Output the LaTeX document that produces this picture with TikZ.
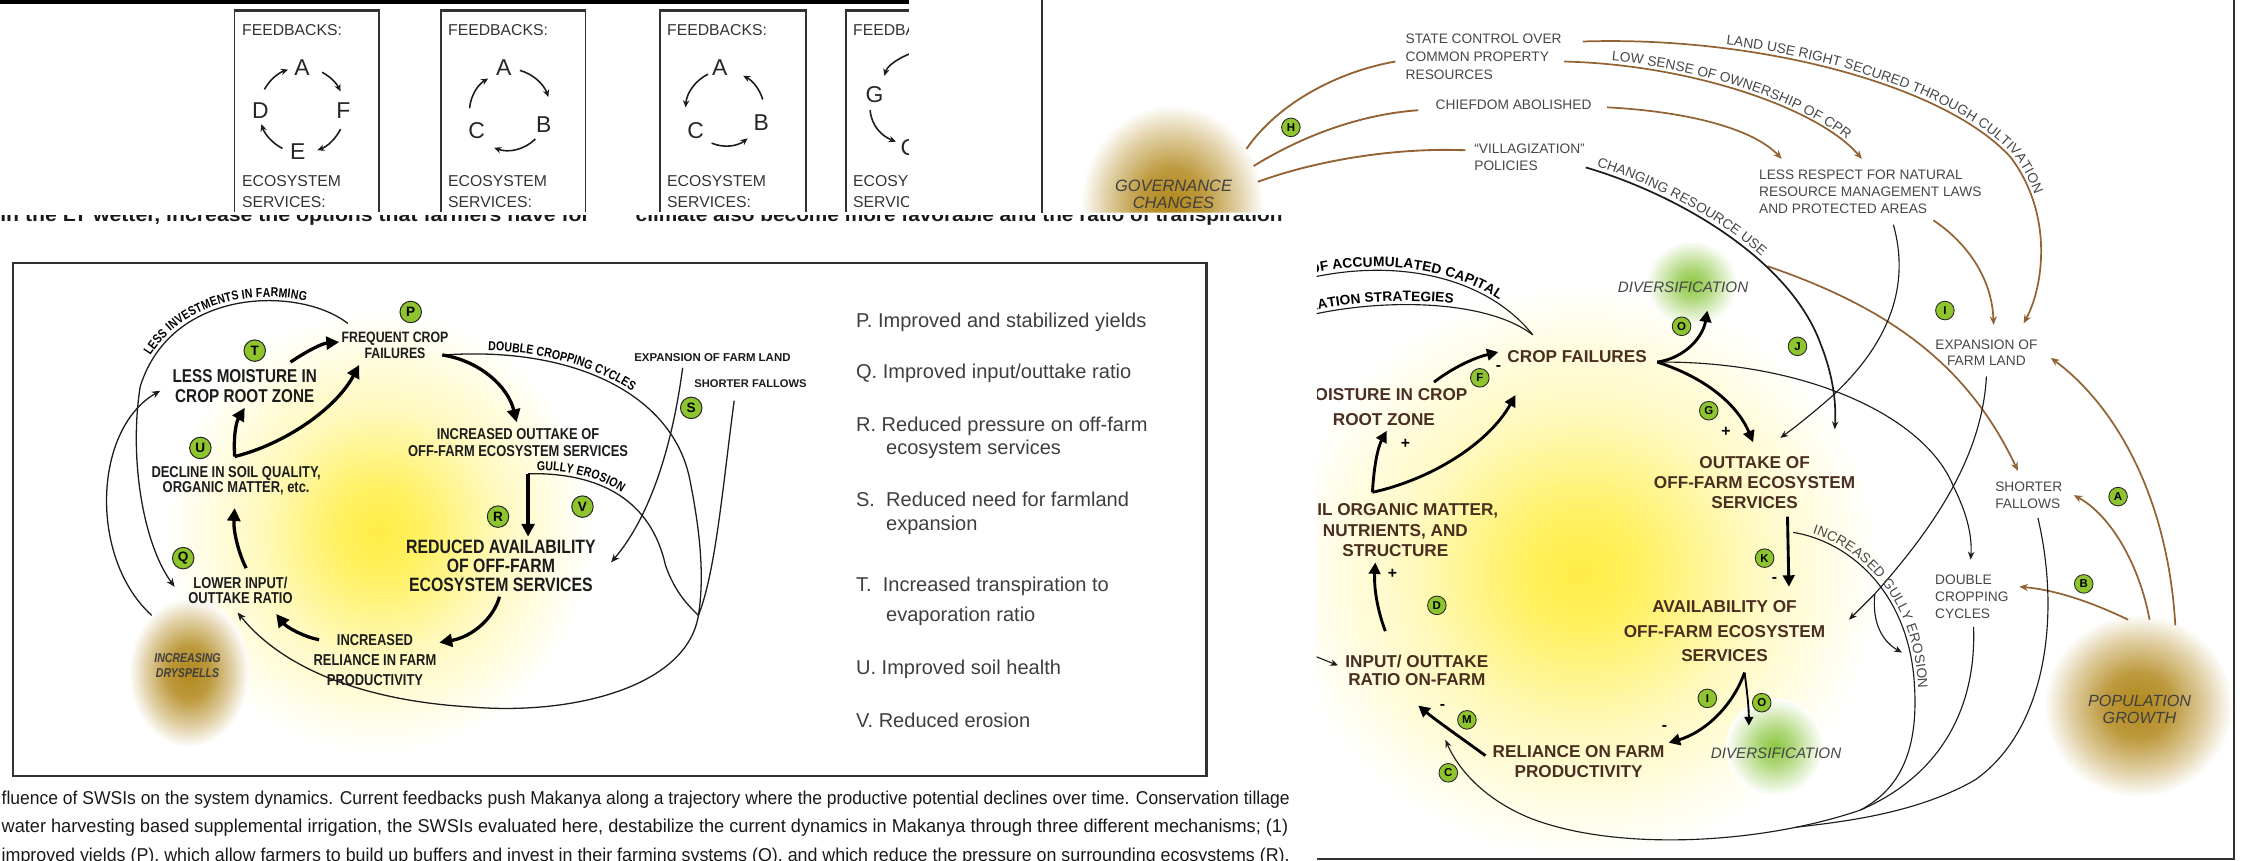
\documentclass[tikz,border=0pt]{standalone}
\usepackage{fontspec}
\usepackage{graphicx}
\setmainfont{Liberation Sans}
\newfontfamily\narrowsans[FakeStretch=0.82]{Liberation Sans}
\usetikzlibrary{arrows.meta,decorations.text}

\definecolor{brownline}{RGB}{146,98,50}
\definecolor{nodebrown}{RGB}{74,46,32}
\definecolor{labelgray}{RGB}{70,70,70}
\definecolor{legendgray}{RGB}{62,62,62}
\definecolor{badgegreen}{RGB}{142,196,46}
\definecolor{glowyellow}{RGB}{255,238,70}
\definecolor{bubblegold}{RGB}{178,136,28}
\definecolor{glowgreen}{RGB}{140,198,64}
\definecolor{frameline}{RGB}{50,50,50}
\definecolor{inkdark}{RGB}{28,28,28}

% radial glows: the path's bounding box spans -25bp..25bp of the shading
\pgfdeclareradialshading{yellowglow}{\pgfpoint{0bp}{0bp}}{%
  color(0bp)=(glowyellow); color(5bp)=(glowyellow!85!white);
  color(14bp)=(glowyellow!35!white); color(25bp)=(white); color(50bp)=(white)}
\pgfdeclareradialshading{goldbubble}{\pgfpoint{0bp}{0bp}}{%
  color(0bp)=(bubblegold); color(9bp)=(bubblegold!85!white);
  color(18bp)=(bubblegold!40!white); color(25bp)=(white); color(50bp)=(white)}
\pgfdeclareradialshading{greenglow}{\pgfpoint{0bp}{0bp}}{%
  color(0bp)=(glowgreen); color(9bp)=(glowgreen!70!white);
  color(25bp)=(white); color(50bp)=(white)}

\newcommand{\glabelfont}{\fontsize{9.6}{12.5}\selectfont}
\newcommand{\ltextfont}{\narrowsans\bfseries\fontsize{9}{9}\selectfont}
\newcommand{\arcboldfont}{\bfseries\fontsize{9.6}{9.6}\selectfont}

\tikzset{
  cyclearrow/.style={draw=inkdark, line width=1.1pt, -{Stealth[length=5pt,width=4.5pt]}},
  boxlabel/.style={anchor=base west, inner sep=0pt, text=black!80, font=\fontsize{11}{11}\selectfont},
  cycletext/.style={inner sep=0pt, text=black!85, font=\fontsize{16}{16}\selectfont},
  lnode/.style={align=center, inner sep=0pt, text=inkdark},
  lthin/.style={draw=inkdark, line width=0.9pt, -{Stealth[length=6pt,width=5pt]}},
  lline/.style={draw=inkdark, line width=0.9pt},
  lthick/.style={draw=black, line width=2.3pt, -{Triangle[length=9pt,width=9pt]}},
  lbadge/.style={circle, draw=black!85, line width=0.7pt, fill=badgegreen, inner sep=0pt,
    minimum size=15pt, font=\fontsize{9.5}{9.5}\selectfont\bfseries},
  legend/.style={anchor=base west, inner sep=0pt, text=legendgray, font=\fontsize{14}{14}\selectfont},
  rnode/.style={align=center, inner sep=0pt, text=nodebrown, font=\fontsize{12}{14}\selectfont\bfseries},
  glabel/.style={align=left, inner sep=0pt, text=labelgray, font=\glabelfont},
  italabel/.style={align=center, inner sep=0pt, text=labelgray, font=\fontsize{10.6}{12}\selectfont\itshape},
  rthin/.style={draw=inkdark, line width=0.8pt, -{Stealth[length=5.5pt,width=4.5pt]}},
  rline/.style={draw=inkdark, line width=0.8pt},
  rthick/.style={draw=black, line width=2pt, -{Triangle[length=8pt,width=8pt]}},
  rmed/.style={draw=black, line width=1.3pt, -{Triangle[length=6pt,width=6pt]}},
  brownarrow/.style={draw=brownline, line width=1.2pt, -{Stealth[length=6pt,width=5pt]}},
  brownlink/.style={draw=brownline, line width=1.3pt},
  badge/.style={circle, draw=black!85, line width=0.6pt, fill=badgegreen, inner sep=0pt,
    minimum size=13pt, font=\fontsize{8}{8}\selectfont\bfseries},
  sign/.style={inner sep=0pt, text=black, font=\fontsize{11}{11}\selectfont\bfseries},
  caption/.style={anchor=base west, inner sep=0pt, text=black!90},
}

\begin{document}
\begin{tikzpicture}[x=1pt,y=-1pt]
\useasboundingbox (0,0) rectangle (1568,601.6);
\clip (0,0) rectangle (1568,601.6);

% ================= strip of feedback boxes =================
\fill[black] (0,0) rectangle (635,2.6);
\begin{scope}
  \clip (0,0) rectangle (635,148);
  \foreach \bl/\br in {164/265,308/409,461/563,591/692}{
    \draw[frameline, line width=1.1pt] (\bl,170) -- (\bl,7) -- (\br,7) -- (\br,170);
    \draw[frameline, line width=1.8pt] (\bl,7.2) -- (\br,7.2);
  }
  % box 1
  \node[boxlabel] (fbA) at (169,25) {FEEDBACKS:};
  \node[boxlabel] (esA) at (169,130) {ECOSYSTEM};
  \node[boxlabel] (svA) at (169,145) {SERVICES:};
  \node[cycletext] (aA) at (211,47) {A};
  \node[cycletext] (fA) at (240,77) {F};
  \node[cycletext] (eA) at (208,106) {E};
  \node[cycletext] (dA) at (182,77) {D};
  \draw[cyclearrow] (211,77) ++(209:30) arc[start angle=209, end angle=251, radius=30];
  \draw[cyclearrow] (211,77) ++(298:30) arc[start angle=298, end angle=334, radius=30];
  \draw[cyclearrow] (211,77) ++(26:30) arc[start angle=26, end angle=69, radius=30];
  \draw[cyclearrow] (211,77) ++(117:30) arc[start angle=117, end angle=161, radius=30];
  % box 2
  \node[boxlabel] (fbB) at (313,25) {FEEDBACKS:};
  \node[boxlabel] (esB) at (313,130) {ECOSYSTEM};
  \node[boxlabel] (svB) at (313,145) {SERVICES:};
  \node[cycletext] (aB) at (352,47) {A};
  \node[cycletext] (bB) at (380,87) {B};
  \node[cycletext] (cB) at (333,91) {C};
  \draw[cyclearrow] (355,78) ++(286:30) arc[start angle=286, end angle=340, radius=30];
  \draw[cyclearrow] (355,78) ++(45:27) arc[start angle=45, end angle=111, radius=27];
  \draw[cyclearrow] (355,78) ++(185:27) arc[start angle=185, end angle=239, radius=27];
  % box 3
  \node[boxlabel] (fbC) at (466,25) {FEEDBACKS:};
  \node[boxlabel] (esC) at (466,130) {ECOSYSTEM};
  \node[boxlabel] (svC) at (466,145) {SERVICES:};
  \node[cycletext] (aC) at (503,47) {A};
  \node[cycletext] (bC) at (532,86) {B};
  \node[cycletext] (cC) at (486,91) {C};
  \draw[cyclearrow] (507,77) ++(244:28) arc[start angle=244, end angle=184, radius=28];
  \draw[cyclearrow] (507,77) ++(113:25) arc[start angle=113, end angle=52, radius=25];
  \draw[cyclearrow] (507,77) ++(344:27) arc[start angle=344, end angle=297, radius=27];
  % box 4
  \node[boxlabel] (fbD) at (596,25) {FEEDBACKS:};
  \node[boxlabel] (esD) at (596,130) {ECOSYSTEM};
  \node[boxlabel] (svD) at (596,145) {SERVICES:};
  \node[cycletext] (gD) at (611,66) {G};
  \node[cycletext] (cD) at (635,103) {C};
  \draw[cyclearrow] (637,37) .. controls (627,41) and (620,46) .. (618,53);
  \draw[cyclearrow] (608,77) .. controls (609,88) and (616,95) .. (626,99);
\end{scope}

% half-hidden line of running text
\begin{scope}
  \clip (0,150.4) rectangle (902,160);
  \node[caption] (runA) at (0,154.5) {\resizebox{412pt}{\height}{\fontsize{13}{13}\selectfont\bfseries in the LT wetter, increase the options that farmers have for}};
  \node[caption] (runB) at (444,154.5) {\resizebox{452pt}{\height}{\fontsize{13}{13}\selectfont\bfseries climate also become more favorable and the ratio of transpiration}};
\end{scope}

% ================= middle-left panel =================
\begin{scope}
  \clip (9,184) rectangle (843,542);
  \shade[shading=yellowglow] (265,372) ellipse [x radius=150, y radius=155];
  \shade[shading=goldbubble] (132,470) ellipse [x radius=42, y radius=52];
\end{scope}
\draw[frameline, line width=1.6pt] (9,184) rectangle (843,542);

% thin links
\draw[lthin] (243,226) .. controls (210,200) and (120,200) .. (98,270) .. controls (90,320) and (100,380) .. (122,410);
\path[decorate, decoration={text along path, text align={left indent=22pt}, raise=2.5pt,
  text={|\ltextfont|LESS INVESTMENTS IN FARMING}}] (98,270) .. controls (120,200) and (210,200) .. (243,226);
\draw[lthin] (106,430) .. controls (62,390) and (65,300) .. (112,273);
\draw[lline] (311,248) .. controls (400,242) and (470,275) .. (482,335) .. controls (490,375) and (492,405) .. (488,430);
\path[decorate, decoration={text along path, text align={left indent=30pt}, raise=2.5pt,
  text={|\ltextfont|DOUBLE CROPPING CYCLES}}] (311,248) .. controls (400,242) and (470,275) .. (482,335);
\draw[lline] (369,331) .. controls (420,330) and (455,350) .. (465,395) .. controls (472,415) and (482,424) .. (488,430);
\path[decorate, decoration={text along path, text align={left indent=6pt}, raise=2.5pt,
  text={|\ltextfont|GULLY EROSION}}] (369,331) .. controls (420,330) and (455,350) .. (465,395);
\draw[lthin] (477,257) .. controls (470,310) and (455,360) .. (427,393);
\draw[lline] (513,280) .. controls (505,340) and (500,400) .. (488,430);
\draw[lthin] (488,430) .. controls (480,480) and (400,500) .. (329,494) .. controls (260,490) and (200,470) .. (166,428);

% thick links
\draw[lthick] (203,253) .. controls (215,245) and (225,240) .. (237,239);
\draw[lthick] (164,319) .. controls (163,305) and (165,295) .. (171,285);
\draw[lthick] (164,319) .. controls (200,310) and (235,285) .. (251,255);
\draw[lthick] (172,397) .. controls (166,385) and (163,370) .. (164,355);
\draw[lthick] (309,248) .. controls (335,252) and (355,270) .. (361,295);
\draw[lthick] (369,331) -- (369,375);
\draw[lthick] (349,417) .. controls (345,432) and (330,445) .. (307,449);
\draw[lthick] (223,447) .. controls (212,445) and (200,438) .. (193,429);

% nodes
\node[lnode, font=\narrowsans\bfseries\fontsize{13}{14}\selectfont] (lmoist) at (171,270) {LESS MOISTURE IN\\CROP ROOT ZONE};
\node[lnode, font=\narrowsans\bfseries\fontsize{10.5}{11}\selectfont] (lfreq) at (276,241.5) {FREQUENT CROP\\FAILURES};
\node[lnode, font=\narrowsans\bfseries\fontsize{11}{10.5}\selectfont] (ldecl) at (165,336) {DECLINE IN SOIL QUALITY,\\ORGANIC MATTER, etc.};
\node[lnode, font=\narrowsans\bfseries\fontsize{11}{11}\selectfont] (llower) at (168,412.5) {LOWER INPUT/\\OUTTAKE RATIO};
\node[lnode, font=\narrowsans\bfseries\fontsize{11}{12}\selectfont] (lout) at (362,309) {INCREASED OUTTAKE OF\\OFF-FARM ECOSYSTEM SERVICES};
\node[lnode, font=\narrowsans\bfseries\fontsize{13.5}{13.5}\selectfont] (lred) at (350,395.5) {REDUCED AVAILABILITY\\OF OFF-FARM\\ECOSYSTEM SERVICES};
\node[lnode, font=\narrowsans\bfseries\fontsize{11}{14}\selectfont] (lrel) at (262,461) {INCREASED\\RELIANCE IN FARM\\PRODUCTIVITY};
\node[lnode, anchor=west, font=\bfseries\fontsize{8}{8}\selectfont] (lexp) at (443,250) {EXPANSION OF FARM LAND};
\node[lnode, anchor=west, font=\bfseries\fontsize{7.8}{8}\selectfont] (lshort) at (485,268) {SHORTER FALLOWS};
\node[lnode, text=black!75, font=\narrowsans\bfseries\itshape\fontsize{9}{10.5}\selectfont] (ldry) at (131,465) {INCREASING\\DRYSPELLS};

\node[lbadge] (bT) at (178,245) {T};
\node[lbadge] (bP) at (287,218) {P};
\node[lbadge] (bU) at (140,313) {U};
\node[lbadge] (bQ) at (128,390) {Q};
\node[lbadge] (bR) at (348,361) {R};
\node[lbadge] (bV) at (407,354) {V};
\node[lbadge] (bS) at (483,285) {S};

% legend
\node[legend] (legP) at (598,228.6) {P. Improved and stabilized yields};
\node[legend] (legQ) at (598,264.6) {Q. Improved input/outtake ratio};
\node[legend] (legR) at (598,301.6) {R. Reduced pressure on off-farm};
\node[legend] (legRb) at (619,317.6) {ecosystem services};
\node[legend] (legS) at (598,353.6) {S.\ \ Reduced need for farmland};
\node[legend] (legSb) at (619,370.6) {expansion};
\node[legend] (legT) at (598,413.6) {T.\ \ Increased transpiration to};
\node[legend] (legTb) at (619,434.6) {evaporation ratio};
\node[legend] (legU) at (598,471.6) {U. Improved soil health};
\node[legend] (legV) at (598,508.6) {V. Reduced erosion};

% caption lines
\node[caption] (capA) at (1,562) {\resizebox{900pt}{\height}{\fontsize{13}{13}\selectfont fluence of SWSIs on the system dynamics. Current feedbacks push Makanya along a trajectory where the productive potential declines over time. Conservation tillage}};
\node[caption] (capB) at (1,582) {\resizebox{899pt}{\height}{\fontsize{13}{13}\selectfont water harvesting based supplemental irrigation, the SWSIs evaluated here, destabilize the current dynamics in Makanya through three different mechanisms; (1)}};
\node[caption] (capC) at (1,602) {\resizebox{900pt}{\height}{\fontsize{13}{13}\selectfont improved yields (P), which allow farmers to build up buffers and invest in their farming systems (Q), and which reduce the pressure on surrounding ecosystems (R),}};

% ================= right panel =================
\begin{scope}
  \clip (728,0) -- (1562,0) -- (1562,601.6) -- (920,601.6) -- (920,148.5) -- (728,148.5) -- cycle;
  \shade[shading=yellowglow] (1105,400) ellipse [x radius=210, y radius=200];
  \shade[shading=greenglow] (1182,198) ellipse [x radius=32, y radius=30];
  \shade[shading=greenglow] (1240,522) ellipse [x radius=34, y radius=34];
  \shade[shading=goldbubble] (819,143) ellipse [x radius=64, y radius=70];
  \shade[shading=goldbubble] (1494,493) ellipse [x radius=66, y radius=64];

  % governance links
  \draw[brownlink] (871,104) .. controls (893,72) and (935,50) .. (975,43);
  \draw[brownlink] (876,116) .. controls (910,95) and (950,80) .. (991,77);
  \draw[brownlink] (879,127) .. controls (920,112) and (975,103) .. (1024,105);
  \draw[brownarrow] (1106,29) .. controls (1230,25) and (1360,60) .. (1405,110) .. controls (1435,150) and (1428,200) .. (1414,226);
  \path[decorate, decoration={text along path, text align={left indent=100pt}, raise=2.5pt,
    text={|\glabelfont\color{labelgray}|LAND USE RIGHT SECURED THROUGH CULTIVATION}}]
    (1106,29) .. controls (1230,25) and (1360,60) .. (1405,110) .. controls (1435,150) and (1428,200) .. (1414,226);
  \draw[brownarrow] (1093,43) .. controls (1180,45) and (1270,75) .. (1301,111);
  \path[decorate, decoration={text along path, text align={left indent=33pt}, raise=2.5pt,
    text={|\glabelfont\color{labelgray}|LOW SENSE OF OWNERSHIP OF CPR}}]
    (1093,43) .. controls (1180,45) and (1270,75) .. (1301,111);
  \draw[brownarrow] (1123,75) .. controls (1180,78) and (1225,90) .. (1245,111);
  \draw[brownarrow] (1351,154) .. controls (1375,170) and (1392,195) .. (1393,227);
  \draw[brownarrow] (1235,186) .. controls (1320,215) and (1375,255) .. (1410,329);
  \draw[brownarrow] (1520,437) .. controls (1515,350) and (1480,285) .. (1433,250);
  \draw[brownarrow] (1502,433) .. controls (1495,395) and (1475,360) .. (1449,346);
  \draw[brownarrow] (1487,433) .. controls (1460,420) and (1435,412) .. (1411,410);

  % thin black links
  \draw[rthin, line width=1.2pt] (1108,117) .. controls (1170,135) and (1250,180) .. (1272,240) .. controls (1282,265) and (1283,285) .. (1282,300);
  \path[decorate, decoration={text along path, text align={left indent=7pt}, raise=3pt,
    text={|\glabelfont\color{labelgray}|CHANGING RESOURCE USE}}]
    (1108,117) .. controls (1170,135) and (1250,180) .. (1272,240);
  \draw[rthin] (1323,157) .. controls (1335,200) and (1320,240) .. (1280,277) .. controls (1265,290) and (1255,298) .. (1244,306);
  \draw[rthin] (1158,253) .. controls (1260,252) and (1345,290) .. (1365,340) .. controls (1375,360) and (1378,375) .. (1377,391);
  \draw[rline] (1388,263) .. controls (1385,320) and (1350,370) .. (1310,415);
  \draw[rthin] (1310,415) -- (1292,433);
  \draw[rthin] (1310,415) .. controls (1308,435) and (1315,448) .. (1329,456);
  \draw[rline] (1253,372) .. controls (1290,378) and (1330,410) .. (1337,470) .. controls (1342,520) and (1330,550) .. (1300,566);
  \path[decorate, decoration={text along path, text align={left indent=13pt}, raise=2.5pt,
    text={|\glabelfont\color{labelgray}|INCREASED GULLY EROSION}}]
    (1253,372) .. controls (1290,378) and (1330,410) .. (1337,470) .. controls (1342,520) and (1330,550) .. (1300,566);
  \draw[rline] (1379,438) .. controls (1381,490) and (1360,540) .. (1300,566);
  \draw[rline] (1424,362) .. controls (1440,430) and (1430,510) .. (1380,545) .. controls (1340,568) and (1290,574) .. (1255,578);
  \draw[rthin] (1300,566) .. controls (1230,590) and (1130,595) .. (1070,572) .. controls (1040,560) and (1020,540) .. (1010,517);
  \draw[rthin] (920,459) -- (935,465);
  \draw[rline] (916,194) .. controls (980,180) and (1040,195) .. (1071,234);
  \path[decorate, decoration={text along path, text align={left indent=0pt}, raise=2.5pt,
    text={|\arcboldfont|OF ACCUMULATED CAPITAL}}]
    (916,194) .. controls (980,180) and (1040,195) .. (1071,234);
  \draw[rline] (916,220) .. controls (970,208) and (1040,210) .. (1071,234);
  \path[decorate, decoration={text along path, text align={left indent=0pt}, raise=2.5pt,
    text={|\arcboldfont|ZATION STRATEGIES}}]
    (916,220) .. controls (970,208) and (1040,210) .. (1071,234);

  % thick links
  \draw[rthick] (1158,253) .. controls (1195,265) and (1215,285) .. (1225,309);
  \draw[rthick] (1158,253) .. controls (1178,250) and (1190,235) .. (1193,217);
  \draw[rthick] (1249,361) -- (1250,410);
  \draw[rthick] (1219,470) .. controls (1210,495) and (1190,512) .. (1166,519);
  \draw[rmed] (1219,470) .. controls (1221,485) and (1222,495) .. (1222,507);
  \draw[rthick] (1038,528) .. controls (1020,515) and (1003,503) .. (991,493);
  \draw[rthick] (968,441) .. controls (962,425) and (960,410) .. (961,393);
  \draw[rthick] (959,344) .. controls (960,325) and (963,312) .. (969,301);
  \draw[rthick] (959,344) .. controls (1000,335) and (1040,310) .. (1059,276);
  \draw[rthick] (1002,267) .. controls (1015,257) and (1030,250) .. (1047,246);

  % nodes
  \node[italabel, text=black!75, font=\fontsize{11.5}{12}\selectfont\itshape] (gov) at (820,136) {GOVERNANCE\\CHANGES};
  \node[glabel, anchor=west] (state) at (982,39.5) {STATE CONTROL OVER\\COMMON PROPERTY\\RESOURCES};
  \node[glabel, anchor=west] (chief) at (1003,73) {CHIEFDOM ABOLISHED};
  \node[glabel, anchor=west, font=\fontsize{9.6}{12}\selectfont] (vill) at (1030,110) {“VILLAGIZATION”\\POLICIES};
  \node[glabel, anchor=west, font=\fontsize{9.6}{12}\selectfont] (resp) at (1229,134) {LESS RESPECT FOR NATURAL\\RESOURCE MANAGEMENT LAWS\\AND PROTECTED AREAS};
  \node[glabel, align=center, font=\fontsize{9.6}{11.5}\selectfont] (expn) at (1388,246.5) {EXPANSION OF\\FARM LAND};
  \node[glabel, anchor=west, font=\fontsize{9.6}{12}\selectfont] (short) at (1394,346) {SHORTER\\FALLOWS};
  \node[glabel, anchor=west, font=\fontsize{9.6}{12}\selectfont] (dbl) at (1352,417) {DOUBLE\\CROPPING\\CYCLES};
  \node[italabel, text=black!75, font=\fontsize{11.3}{12}\selectfont\itshape] (pop) at (1495,496) {POPULATION\\GROWTH};
  \node[rnode] (crop) at (1102,249) {CROP FAILURES};
  \node[italabel] (divtop) at (1176,201) {DIVERSIFICATION};
  \node[rnode] (outt) at (1226,337) {OUTTAKE OF\\OFF-FARM ECOSYSTEM\\SERVICES};
  \node[rnode, font=\fontsize{12}{17}\selectfont\bfseries] (avail) at (1205,441) {AVAILABILITY OF\\OFF-FARM ECOSYSTEM\\SERVICES};
  \node[rnode] (rel) at (1103,532) {RELIANCE ON FARM\\PRODUCTIVITY};
  \node[italabel] (divbot) at (1241,526) {DIVERSIFICATION};
  \node[rnode, font=\fontsize{12}{13}\selectfont\bfseries] (inp) at (990,468.5) {INPUT/ OUTTAKE\\RATIO ON-FARM};
  \node[rnode, font=\fontsize{12}{17}\selectfont\bfseries] (moist) at (967,284.5) {MOISTURE IN CROP\\ROOT ZONE};
  \node[rnode, font=\fontsize{12}{14.5}\selectfont\bfseries] (soil) at (975,370.5) {SOIL ORGANIC MATTER,\\NUTRIENTS, AND\\STRUCTURE};

  % signs
  \node[sign] (sF) at (1047,257) {-};
  \node[sign] (sMo) at (982,310) {+};
  \node[sign] (sSo) at (973,401) {+};
  \node[sign] (sG) at (1206,302) {+};
  \node[sign] (sK) at (1240,405) {-};
  \node[sign] (sM) at (1008,494) {-};
  \node[sign] (sI) at (1163,509) {-};

  % badges
  \node[badge] (bH) at (902,89) {H};
  \node[badge] (bF) at (1034,264) {F};
  \node[badge] (bOa) at (1175,228) {O};
  \node[badge] (bG) at (1194,287) {G};
  \node[badge] (bJ) at (1256,242) {J};
  \node[badge] (bIa) at (1359,217) {I};
  \node[badge] (bK) at (1233,390) {K};
  \node[badge] (bD) at (1004,423) {D};
  \node[badge] (bM) at (1025,503) {M};
  \node[badge] (bC) at (1012,540) {C};
  \node[badge] (bIb) at (1193,488) {I};
  \node[badge] (bOb) at (1231,491) {O};
  \node[badge] (bA) at (1480,347) {A};
  \node[badge] (bB) at (1456,408) {B};
\end{scope}
\draw[frameline, line width=1.4pt] (728,0) -- (728,148.5);
\draw[frameline, line width=1.6pt] (1561,0) -- (1561,600) -- (920,600);

\end{tikzpicture}
\end{document}
